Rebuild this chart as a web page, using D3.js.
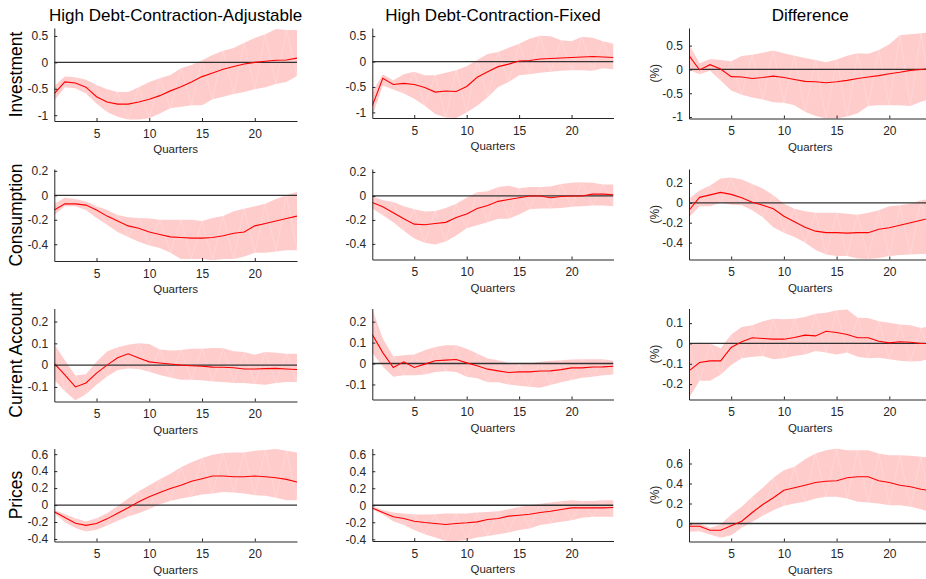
<!DOCTYPE html>
<html><head><meta charset="utf-8">
<script src="https://cdn.jsdelivr.net/npm/d3@7"></script>
<style>
html,body{margin:0;padding:0;background:#fff;}
svg{display:block;font-family:"Liberation Sans",Arial,Helvetica,sans-serif;}
</style></head>
<body>
<svg id="chart" width="926" height="579"></svg>
<script>
// ---------- DATA ----------
const quarters = [1,2,3,4,5,6,7,8,9,10,11,12,13,14,15,16,17,18,19,20,21,22,23,24];
const colTitles = ["High Debt-Contraction-Adjustable","High Debt-Contraction-Fixed","Difference"];
const rowLabels = ["Investment","Consumption","Current Account","Prices"];
const xTickValues = [5,10,15,20];
const xLabel = "Quarters";
const diffLabel = "(%)";

// Investment
const invAdjMid = [-0.59,-0.37,-0.39,-0.47,-0.65,-0.75,-0.79,-0.79,-0.75,-0.70,-0.63,-0.54,-0.46,-0.37,-0.27,-0.20,-0.13,-0.08,-0.03,0.00,0.02,0.04,0.045,0.08];
const invAdjHi  = [-0.45,-0.27,-0.28,-0.33,-0.43,-0.51,-0.56,-0.56,-0.47,-0.37,-0.30,-0.24,-0.11,-0.05,0.04,0.14,0.22,0.27,0.37,0.46,0.53,0.63,0.61,0.61];
const invAdjLo  = [-0.72,-0.47,-0.49,-0.59,-0.78,-0.94,-1.03,-1.08,-1.08,-1.06,-0.97,-0.87,-0.84,-0.81,-0.81,-0.70,-0.65,-0.60,-0.56,-0.51,-0.47,-0.41,-0.37,-0.26];
const invFixMid = [-0.87,-0.33,-0.45,-0.43,-0.45,-0.51,-0.60,-0.58,-0.59,-0.49,-0.31,-0.20,-0.10,-0.05,0.01,0.02,0.05,0.06,0.07,0.08,0.09,0.10,0.09,0.08];
const invFixHi  = [-0.60,-0.25,-0.37,-0.25,-0.20,-0.27,-0.27,-0.22,-0.17,-0.09,0.03,0.15,0.19,0.27,0.35,0.45,0.51,0.50,0.42,0.40,0.49,0.47,0.40,0.35];
const invFixLo  = [-1.07,-0.47,-0.55,-0.63,-0.73,-0.87,-1.03,-1.10,-1.11,-1.00,-0.87,-0.70,-0.50,-0.40,-0.27,-0.25,-0.22,-0.20,-0.18,-0.17,-0.17,-0.18,-0.13,-0.15];
const invDifMid = [0.29,-0.01,0.10,0.01,-0.15,-0.16,-0.19,-0.17,-0.14,-0.17,-0.21,-0.25,-0.26,-0.28,-0.26,-0.23,-0.19,-0.16,-0.13,-0.09,-0.06,-0.02,0.00,0.02];
const invDifHi  = [0.53,0.13,0.22,0.20,0.17,0.28,0.31,0.35,0.40,0.34,0.29,0.24,0.20,0.15,0.21,0.29,0.34,0.33,0.41,0.53,0.72,0.74,0.76,0.78];
const invDifLo  = [-0.01,-0.10,-0.03,-0.23,-0.44,-0.53,-0.59,-0.63,-0.69,-0.70,-0.75,-0.89,-0.98,-1.03,-1.03,-0.99,-0.92,-0.77,-0.75,-0.75,-0.75,-0.77,-0.68,-0.61];

// Consumption
const conAdjMid = [-0.12,-0.07,-0.07,-0.08,-0.12,-0.17,-0.21,-0.25,-0.27,-0.30,-0.32,-0.34,-0.345,-0.35,-0.35,-0.345,-0.33,-0.31,-0.30,-0.25,-0.23,-0.21,-0.19,-0.17];
const conAdjHi  = [-0.07,-0.02,-0.03,-0.05,-0.09,-0.12,-0.16,-0.18,-0.185,-0.19,-0.20,-0.20,-0.20,-0.20,-0.21,-0.185,-0.17,-0.13,-0.11,-0.09,-0.07,-0.03,0.00,0.03];
const conAdjLo  = [-0.16,-0.09,-0.09,-0.12,-0.185,-0.24,-0.30,-0.34,-0.38,-0.41,-0.43,-0.47,-0.52,-0.52,-0.52,-0.53,-0.52,-0.52,-0.50,-0.47,-0.47,-0.46,-0.45,-0.45];
const conFixMid = [-0.055,-0.09,-0.14,-0.19,-0.235,-0.24,-0.23,-0.22,-0.18,-0.15,-0.105,-0.08,-0.045,-0.03,-0.015,0.00,0.00,-0.015,-0.005,0.00,0.00,0.015,0.015,0.01];
const conFixHi  = [0.00,-0.035,-0.05,-0.085,-0.11,-0.13,-0.125,-0.10,-0.065,-0.015,0.03,0.04,0.075,0.085,0.065,0.075,0.075,0.08,0.10,0.11,0.115,0.11,0.095,0.095];
const conFixLo  = [-0.105,-0.16,-0.22,-0.29,-0.355,-0.39,-0.405,-0.38,-0.33,-0.27,-0.245,-0.22,-0.19,-0.19,-0.155,-0.11,-0.105,-0.105,-0.10,-0.09,-0.085,-0.08,-0.08,-0.085];
const conDifMid = [-0.075,0.055,0.08,0.105,0.085,0.05,0.005,-0.025,-0.06,-0.135,-0.19,-0.245,-0.285,-0.30,-0.30,-0.305,-0.30,-0.30,-0.265,-0.25,-0.225,-0.20,-0.175,-0.15];
const conDifHi  = [0.04,0.125,0.175,0.245,0.255,0.235,0.19,0.145,0.075,-0.01,-0.06,-0.085,-0.10,-0.10,-0.10,-0.11,-0.12,-0.10,-0.075,-0.035,-0.025,-0.01,0.025,0.045];
const conDifLo  = [-0.145,-0.035,-0.035,0.00,-0.02,-0.025,-0.075,-0.145,-0.245,-0.30,-0.345,-0.40,-0.475,-0.52,-0.535,-0.535,-0.56,-0.565,-0.555,-0.535,-0.525,-0.52,-0.515,-0.51];

// Current Account
const caAdjMid = [0.0075,-0.045,-0.10,-0.082,-0.037,0.00,0.034,0.052,0.033,0.015,0.01,0.005,0.00,-0.003,-0.005,-0.009,-0.01,-0.012,-0.018,-0.018,-0.016,-0.015,-0.018,-0.02];
const caAdjHi  = [0.097,0.022,-0.048,-0.042,0.015,0.063,0.082,0.094,0.10,0.097,0.072,0.067,0.07,0.075,0.075,0.079,0.078,0.064,0.06,0.048,0.06,0.057,0.052,0.052];
const caAdjLo  = [-0.067,-0.12,-0.161,-0.134,-0.09,-0.052,-0.022,-0.015,-0.018,-0.03,-0.045,-0.057,-0.067,-0.067,-0.07,-0.075,-0.078,-0.082,-0.082,-0.087,-0.09,-0.082,-0.078,-0.078];
const caFixMid = [0.138,0.052,-0.019,0.008,-0.019,-0.003,0.013,0.016,0.019,0.003,-0.011,-0.027,-0.035,-0.043,-0.04,-0.04,-0.036,-0.035,-0.029,-0.021,-0.021,-0.017,-0.016,-0.013];
const caFixHi  = [0.259,0.119,0.035,0.04,0.043,0.063,0.079,0.087,0.087,0.071,0.048,0.024,0.016,0.003,-0.005,0.00,0.008,0.013,0.016,0.019,0.021,0.021,0.021,0.013];
const caFixLo  = [0.052,-0.016,-0.063,-0.056,-0.056,-0.052,-0.04,-0.037,-0.04,-0.063,-0.071,-0.09,-0.09,-0.10,-0.106,-0.111,-0.116,-0.103,-0.09,-0.079,-0.068,-0.063,-0.056,-0.052];
const caDifMid = [-0.135,-0.094,-0.086,-0.086,-0.02,0.008,0.028,0.024,0.021,0.021,0.029,0.041,0.037,0.06,0.054,0.044,0.028,0.028,0.011,0.003,0.008,0.006,0.00,0.00];
const caDifHi  = [-0.008,0.003,0.00,-0.024,0.044,0.081,0.089,0.109,0.122,0.119,0.122,0.13,0.146,0.151,0.163,0.167,0.127,0.125,0.109,0.102,0.093,0.089,0.076,0.086];
const caDifLo  = [-0.268,-0.184,-0.184,-0.154,-0.106,-0.073,-0.065,-0.062,-0.078,-0.073,-0.062,-0.054,-0.037,-0.044,-0.054,-0.044,-0.065,-0.073,-0.07,-0.078,-0.085,-0.089,-0.086,-0.073];

// Prices
const prAdjMid = [-0.078,-0.148,-0.214,-0.24,-0.218,-0.163,-0.097,-0.031,0.039,0.097,0.148,0.194,0.233,0.28,0.31,0.342,0.342,0.334,0.334,0.342,0.334,0.322,0.303,0.272];
const prAdjHi  = [-0.058,-0.105,-0.155,-0.194,-0.155,-0.097,-0.012,0.078,0.163,0.233,0.303,0.369,0.447,0.505,0.555,0.594,0.614,0.621,0.621,0.641,0.649,0.66,0.641,0.621];
const prAdjLo  = [-0.097,-0.202,-0.272,-0.311,-0.291,-0.24,-0.186,-0.136,-0.097,-0.047,0.008,0.047,0.078,0.097,0.124,0.136,0.155,0.148,0.136,0.117,0.109,0.085,0.058,0.058];
const prFixMid = [-0.031,-0.086,-0.136,-0.155,-0.187,-0.203,-0.214,-0.226,-0.214,-0.206,-0.195,-0.167,-0.155,-0.128,-0.117,-0.105,-0.086,-0.07,-0.05,-0.031,-0.031,-0.031,-0.031,-0.027];
const prFixHi  = [-0.008,-0.058,-0.086,-0.097,-0.109,-0.109,-0.105,-0.097,-0.097,-0.097,-0.086,-0.078,-0.07,-0.047,-0.02,0.00,0.019,0.031,0.047,0.058,0.05,0.05,0.058,0.058];
const prFixLo  = [-0.047,-0.109,-0.187,-0.233,-0.291,-0.342,-0.38,-0.42,-0.42,-0.408,-0.38,-0.361,-0.342,-0.319,-0.291,-0.272,-0.233,-0.214,-0.195,-0.175,-0.148,-0.136,-0.136,-0.136];
const prDifMid = [-0.027,-0.027,-0.067,-0.067,-0.023,0.023,0.11,0.19,0.257,0.333,0.357,0.383,0.41,0.423,0.427,0.457,0.467,0.467,0.427,0.41,0.383,0.367,0.343,0.327];
const prDifHi  = [0.01,0.00,-0.043,-0.01,0.09,0.167,0.267,0.357,0.457,0.533,0.567,0.643,0.70,0.733,0.75,0.733,0.733,0.733,0.70,0.683,0.683,0.677,0.667,0.657];
const prDifLo  = [-0.083,-0.077,-0.11,-0.143,-0.117,-0.043,0.017,0.077,0.133,0.177,0.20,0.217,0.25,0.267,0.267,0.25,0.217,0.21,0.20,0.183,0.183,0.167,0.143,0.11];

// Axis ranges and tick values (per panel, row-major)
const yDomains = [
  [-1.11,0.65],[-1.11,0.66],[-1.03,0.87],
  [-0.537,0.215],[-0.53,0.225],[-0.57,0.34],
  [-0.167,0.26],[-0.172,0.263],[-0.276,0.172],
  [-0.43,0.667],[-0.42,0.667],[-0.18,0.75]
];
const yTickValues = [
  [-1,-0.5,0,0.5],[-1,-0.5,0,0.5],[-1,-0.5,0,0.5],
  [-0.4,-0.2,0,0.2],[-0.4,-0.2,0,0.2],[-0.4,-0.2,0,0.2],
  [-0.1,0,0.1,0.2],[-0.1,0,0.1,0.2],[-0.2,-0.1,0,0.1],
  [-0.4,-0.2,0,0.2,0.4,0.6],[-0.4,-0.2,0,0.2,0.4,0.6],[0,0.2,0.4,0.6]
];
const panels = [
  [invAdjMid,invAdjLo,invAdjHi],[invFixMid,invFixLo,invFixHi],[invDifMid,invDifLo,invDifHi],
  [conAdjMid,conAdjLo,conAdjHi],[conFixMid,conFixLo,conFixHi],[conDifMid,conDifLo,conDifHi],
  [caAdjMid,caAdjLo,caAdjHi],[caFixMid,caFixLo,caFixHi],[caDifMid,caDifLo,caDifHi],
  [prAdjMid,prAdjLo,prAdjHi],[prFixMid,prFixLo,prFixHi],[prDifMid,prDifLo,prDifHi]
];

// ---------- LAYOUT ----------
const colX = [[54.3,297],[372.3,613.5],[689,931.5]];
const rowTop = [28,169,308.5,448.5];
const rowBottom = [[121,118,118.5],[261,259.5,259.5],[401.5,399.5,399.5],[541.5,541,541.5]];

const svg = d3.select("#chart");
const axisColor = "#262626";
const fmt = d => String(d);

panels.forEach((p, i) => {
  const r = Math.floor(i/3), c = i % 3;
  const [mid, lo, hi] = p;
  const x = d3.scaleLinear().domain([1,24]).range(colX[c]);
  const y = d3.scaleLinear().domain(yDomains[i]).range([rowBottom[r][c], rowTop[r]]);
  const g = svg.append("g");
  const clipId = "clip"+i;
  g.append("clipPath").attr("id",clipId).append("rect")
    .attr("x", colX[c][0]).attr("y", rowTop[r])
    .attr("width", colX[c][1]-colX[c][0]).attr("height", rowBottom[r][c]-rowTop[r]);
  const plot = g.append("g").attr("clip-path","url(#"+clipId+")");

  const area = d3.area().x((d,k)=>x(quarters[k])).y0((d,k)=>y(lo[k])).y1((d,k)=>y(hi[k]));
  plot.append("path").datum(mid).attr("d", area).attr("fill","#ffcccc").attr("stroke","none");
  // faint patch-triangulation zigzag
  const zig = quarters.map((q,k)=>[x(q), y(k%2===0 ? hi[k] : lo[k])]);
  plot.append("path").attr("d", d3.line()(zig)).attr("fill","none")
    .attr("stroke","#ffffff").attr("stroke-opacity",0.35).attr("stroke-width",0.6);

  // zero line
  plot.append("line").attr("x1",colX[c][0]).attr("x2",colX[c][1])
    .attr("y1",y(0)).attr("y2",y(0)).attr("stroke","#333").attr("stroke-width",1.3);
  // mean response
  const line = d3.line().x((d,k)=>x(quarters[k])).y(d=>y(d));
  plot.append("path").datum(mid).attr("d", line).attr("fill","none")
    .attr("stroke","#ff0000").attr("stroke-width",1.1);

  // axes
  const ax = g.append("g").attr("transform",`translate(0,${rowBottom[r][c]})`)
    .call(d3.axisBottom(x).tickValues(xTickValues).tickFormat(fmt).tickSizeInner(-3).tickSizeOuter(0).tickPadding(8));
  const ay = g.append("g").attr("transform",`translate(${colX[c][0]},0)`)
    .call(d3.axisLeft(y).tickValues(yTickValues[i]).tickFormat(fmt).tickSizeInner(-3).tickSizeOuter(0).tickPadding(6));
  [ax, ay].forEach(a => {
    a.select(".domain").attr("stroke",axisColor).attr("stroke-width",1);
    a.selectAll(".tick line").attr("stroke",axisColor);
    a.selectAll(".tick text").attr("fill",axisColor).style("font-size","12px")
      .style("font-family",'"Liberation Sans",Arial,sans-serif');
  });

  // x label
  g.append("text").attr("x",(colX[c][0]+colX[c][1])/2).attr("y",rowBottom[r][c]+32)
    .attr("text-anchor","middle").attr("fill",axisColor).style("font-size","11.5px").text(xLabel);

  // column titles
  if (r === 0) {
    g.append("text").attr("x",(colX[c][0]+colX[c][1])/2).attr("y",21)
      .attr("text-anchor","middle").attr("fill","#000").style("font-size","17px").text(colTitles[c]);
  }
  // row labels
  const cy = (rowTop[r]+rowBottom[r][c])/2;
  if (c === 0) {
    g.append("text").attr("transform",`translate(22,${cy}) rotate(-90)`)
      .attr("text-anchor","middle").attr("fill","#000").style("font-size","17.5px").text(rowLabels[r]);
  }
  if (c === 2) {
    g.append("text").attr("transform",`translate(659,${cy}) rotate(-90)`)
      .attr("text-anchor","middle").attr("fill",axisColor).style("font-size","12px").text(diffLabel);
  }
});
</script>
</body></html>
